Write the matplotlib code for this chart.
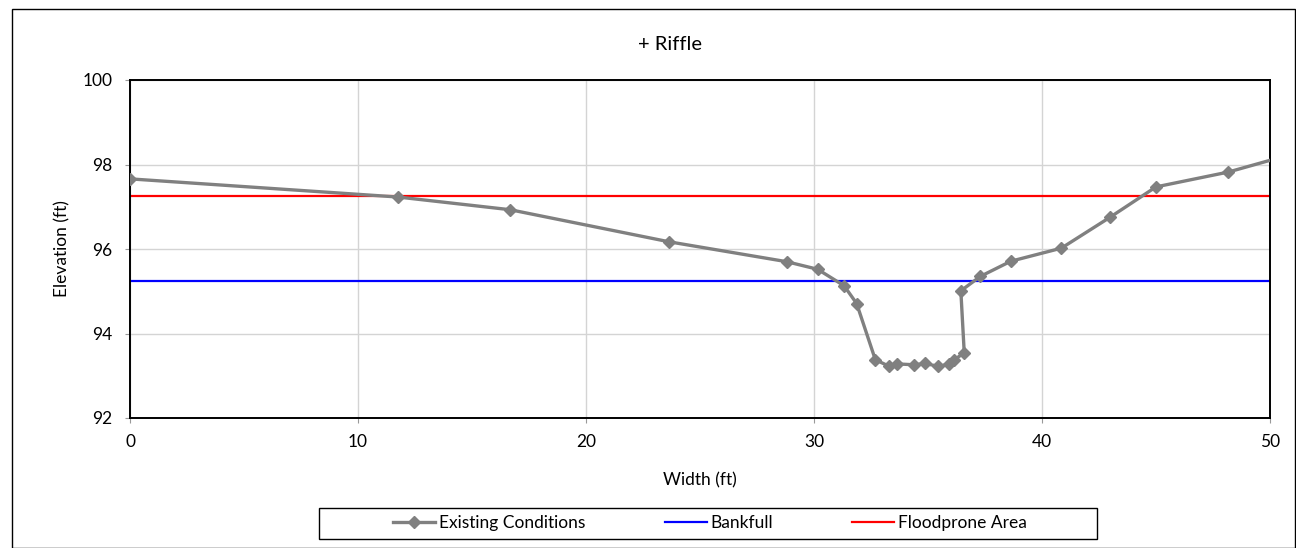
import matplotlib

matplotlib.use("Agg")
import matplotlib.pyplot as plt
from matplotlib.patches import Rectangle

width_ft = [0.0, 11.76, 16.67, 23.65, 28.80, 30.16, 31.32, 31.87, 32.69, 33.31,
            33.66, 34.39, 34.89, 35.46, 35.94, 36.15, 36.59, 36.44, 37.29, 38.63,
            40.85, 42.98, 45.0, 48.16, 51.0]
elev_ft = [97.66, 97.23, 96.93, 96.17, 95.70, 95.52, 95.13, 94.71, 93.38, 93.22,
           93.28, 93.26, 93.29, 93.22, 93.28, 93.38, 93.54, 95.01, 95.35, 95.71,
           96.02, 96.75, 97.47, 97.82, 98.25]
bankfull_elev = 95.24
floodprone_elev = 97.25
x_ticks = [0, 10, 20, 30, 40, 50]
y_ticks = [92, 94, 96, 98, 100]

plt.rcParams["font.family"] = ["Lato", "DejaVu Sans"]
plt.rcParams["font.size"] = 12.5

W, H = 1296, 548
fig = plt.figure(figsize=(W / 100, H / 100), dpi=100)
ax = fig.add_axes([130 / W, 1 - 418 / H, 1140 / W, 338 / H])

ax.plot(width_ft, elev_ft, color="#808080", lw=2.4, marker="D", ms=6.5,
        label="Existing Conditions", zorder=3)
ax.axhline(bankfull_elev, color="#0000ff", lw=1.6, label="Bankfull", zorder=2)
ax.axhline(floodprone_elev, color="#ff0000", lw=1.6, label="Floodprone Area", zorder=2)

ax.set_xlim(0, 50)
ax.set_ylim(92, 100)
ax.set_xticks(x_ticks)
ax.set_yticks(y_ticks)
ax.grid(True, color="#d4d4d4", lw=1)
ax.set_axisbelow(True)
for s in ax.spines.values():
    s.set_color("black")
    s.set_linewidth(1.4)
ax.tick_params(direction="out", length=3.5, width=0.8, color="#999999")
ax.tick_params(axis="y", pad=9)
ax.tick_params(axis="x", pad=8)

ax.set_xlabel("Width (ft)", va="center")
ax.xaxis.set_label_coords(0.5, (418 - 480) / 338)
ax.set_ylabel("Elevation (ft)", va="center")
ax.yaxis.set_label_coords((62 - 130) / 1140, 0.5)
fig.text(670 / W, 1 - 45 / H, "+ Riffle", ha="center", va="center", fontsize=14.5)

leg = fig.legend(loc="center", ncol=3, bbox_to_anchor=(710 / W, 1 - 523 / H),
                 frameon=False, handlelength=2.4, handletextpad=0.2,
                 columnspacing=4.6)
fig.patches.append(Rectangle((319 / W, 1 - 539 / H), 778 / W, 31 / H,
                             transform=fig.transFigure, fill=False,
                             edgecolor="black", lw=1))

# outer chart border
fig.patches.append(Rectangle((12 / W, 0), 1 - 13 / W, 1 - 9 / H,
                             transform=fig.transFigure, fill=False,
                             edgecolor="black", lw=1))

fig.savefig("out.png", dpi=100)
